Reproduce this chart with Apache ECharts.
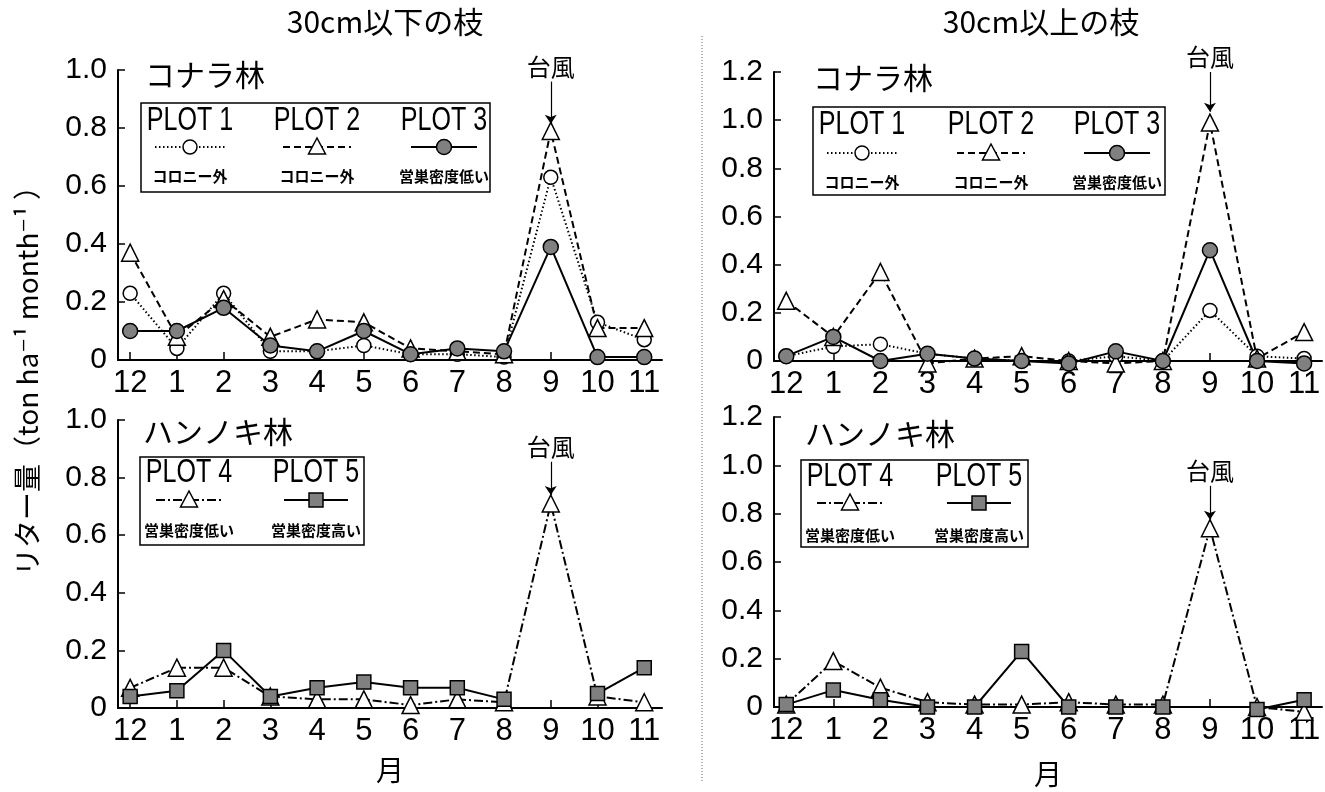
<!DOCTYPE html>
<html><head><meta charset="utf-8">
<script src="https://cdn.jsdelivr.net/npm/echarts@6/dist/echarts.min.js"></script>
<style>html,body{margin:0;padding:0;background:#fff}#c{width:1325px;height:792px}</style>
</head><body><div id="c"></div>
<script>
// ---- data ----
const months = ['12','1','2','3','4','5','6','7','8','9','10','11'];
// 30cm以下の枝 / コナラ林
const plot1Small = [0.23,0.04,0.23,0.03,0.03,0.05,0.02,0.02,0.01,0.63,0.13,0.07];
const plot2Small = [0.37,0.08,0.21,0.08,0.14,0.13,0.04,0.03,0.02,0.79,0.11,0.11];
const plot3Small = [0.10,0.10,0.18,0.05,0.03,0.10,0.02,0.04,0.03,0.39,0.01,0.01];
// 30cm以上の枝 / コナラ林
const plot1Large = [0.02,0.06,0.07,0.03,0.01,0.00,0.00,0.02,0.00,0.21,0.02,0.01];
const plot2Large = [0.25,0.10,0.37,-0.01,0.01,0.02,0.00,-0.01,0.00,0.99,0.01,0.12];
const plot3Large = [0.02,0.10,0.00,0.03,0.01,0.00,-0.01,0.04,0.00,0.46,0.00,-0.01];
// 30cm以下の枝 / ハンノキ林
const plot4Small = [0.07,0.14,0.14,0.04,0.03,0.03,0.01,0.03,0.02,0.71,0.04,0.02];
const plot5Small = [0.04,0.06,0.20,0.04,0.07,0.09,0.07,0.07,0.03,null,0.05,0.14];
// 30cm以上の枝 / ハンノキ林
const plot4Large = [0.01,0.19,0.08,0.02,0.01,0.01,0.02,0.01,0.01,0.74,0.00,-0.02];
const plot5Large = [0.01,0.07,0.03,0.00,0.00,0.23,0.00,0.00,0.00,null,-0.01,0.03];
const yTicksSmall = [0, 1.0];
const yTicksLarge = [0, 1.2];

// ---- chart ----
const chart = echarts.init(document.getElementById('c'));
const NUM = "'Liberation Sans', Arial, sans-serif";
const JP = "'Noto Sans CJK JP', sans-serif";
const idx = months.map((m, i) => i);

const grids = [
  {left:118, top:70, width:544, height:290},
  {left:774, top:72, width:548, height:289},
  {left:118, top:420, width:544, height:288},
  {left:774, top:417, width:548, height:290}
].map(g => Object.assign({outerBoundsMode:'none', containLabel:false}, g));

function xAx(gi) {
  return {type:'value', gridIndex:gi, min:-0.26, max:11.38,
    axisLine:{onZero:false, lineStyle:{color:'#000', width:2}},
    axisTick:{show:true, inside:true, length:8, customValues:idx, lineStyle:{color:'#000', width:1.5}},
    axisLabel:{customValues:idx, formatter:v => months[Math.round(v)], margin:8, color:'#000', fontSize:31, fontFamily:NUM},
    splitLine:{show:false}};
}
function yAx(gi, range) {
  return {type:'value', gridIndex:gi, min:range[0], max:range[1], interval:0.2,
    axisLine:{show:true, onZero:false, lineStyle:{color:'#000', width:2}},
    axisTick:{show:true, inside:true, length:7, lineStyle:{color:'#000', width:1.5}},
    axisLabel:{formatter:v => v === 0 ? '0' : v.toFixed(1), margin:11, color:'#000', fontSize:30, fontFamily:NUM},
    splitLine:{show:false}};
}

const STY = {
  p1:{symbol:'circle', symbolSize:14, fill:'#fff', dash:[1.5,2.5]},
  p2:{symbol:'triangle', symbolSize:17, fill:'#fff', dash:[7,4]},
  p3:{symbol:'circle', symbolSize:15, fill:'#808080', dash:'solid'},
  p4:{symbol:'triangle', symbolSize:17, fill:'#fff', dash:[9,3,2,3]},
  p5:{symbol:'rect', symbolSize:14, fill:'#808080', dash:'solid'}
};

function ser(name, data, gi, k, arrow) {
  const s = STY[k];
  const o = {type:'line', name, xAxisIndex:gi, yAxisIndex:gi, clip:false,
    data:data.map((v, i) => [i, v == null ? '-' : v]),
    symbol:s.symbol, symbolSize:s.symbolSize, showAllSymbol:true, connectNulls:false,
    itemStyle:{color:s.fill, borderColor:'#000', borderWidth:1.5},
    lineStyle:{color:'#000', width:2, type:s.dash},
    emphasis:{disabled:true}, z:3};
  if (arrow) {
    o.markLine = {silent:true, animation:false, symbol:['none','arrow'], symbolSize:9,
      lineStyle:{color:'#000', width:1.2, type:'solid'},
      label:{show:true, position:'start', formatter:'台風', fontSize:24, fontFamily:JP, color:'#000', distance:3},
      data:[[{coord:[9, arrow[0]]}, {coord:[9, arrow[1]]}]]};
  }
  return o;
}

const series = [
  ser('PLOT 1', plot1Small, 0, 'p1'),
  ser('PLOT 2', plot2Small, 0, 'p2', [0.96, 0.815]),
  ser('PLOT 3', plot3Small, 0, 'p3'),
  ser('PLOT 1', plot1Large, 1, 'p1'),
  ser('PLOT 2', plot2Large, 1, 'p2', [1.2, 1.035]),
  ser('PLOT 3', plot3Large, 1, 'p3'),
  ser('PLOT 4', plot4Small, 2, 'p4', [0.855, 0.74]),
  ser('PLOT 5', plot5Small, 2, 'p5'),
  ser('PLOT 4', plot4Large, 3, 'p4', [0.915, 0.775]),
  ser('PLOT 5', plot5Large, 3, 'p5')
];

// ---- legend boxes drawn as graphics ----
const g = [];
function txt(x, y, text, size, font, extra, weight) {
  g.push(Object.assign({type:'text', x, y, z:5, style:{text, fontSize:size, fontFamily:font, fontWeight:weight || 'normal', fill:'#000', align:'center', verticalAlign:'middle'}}, extra || {}));
}
function sample(cx, cy, k, half) {
  const s = STY[k];
  g.push({type:'line', z:5, shape:{x1:cx-half, y1:cy, x2:cx+half, y2:cy},
    style:{stroke:'#000', lineWidth:2, lineDash:s.dash === 'solid' ? null : s.dash}});
  const st = {fill:s.fill, stroke:'#000', lineWidth:1.5};
  if (s.symbol === 'circle') g.push({type:'circle', z:6, shape:{cx, cy, r:s.symbolSize/2}, style:st});
  else if (s.symbol === 'triangle') g.push({type:'polygon', z:6, shape:{points:[[cx, cy-9],[cx-8.5, cy+7],[cx+8.5, cy+7]]}, style:st});
  else g.push({type:'rect', z:6, shape:{x:cx-7, y:cy-7, width:14, height:14}, style:st});
}
function box(x, y, w, h) {
  g.push({type:'rect', z:1, shape:{x, y, width:w, height:h}, style:{fill:'#fff', stroke:'#000', lineWidth:1.5}});
}
function entry(cx, yName, ySample, ySub, name, k, sub, half) {
  txt(cx, yName, name, 33, NUM, {scaleX:0.76});
  sample(cx, ySample, k, half);
  txt(cx, ySub, sub, 15, JP, null, 'bold');
}

box(141, 103, 349, 89);
entry(190, 121, 147, 176, 'PLOT 1', 'p1', 'コロニー外', 35);
entry(317, 121, 147, 176, 'PLOT 2', 'p2', 'コロニー外', 34);
entry(444, 121, 147, 176, 'PLOT 3', 'p3', '営巣密度低い', 33);

box(813, 107, 352, 88);
entry(862, 125, 153, 182, 'PLOT 1', 'p1', 'コロニー外', 35);
entry(991, 125, 153, 182, 'PLOT 2', 'p2', 'コロニー外', 34);
entry(1117, 125, 153, 182, 'PLOT 3', 'p3', '営巣密度低い', 33);

box(140, 457, 224, 88);
entry(189, 473, 500, 530, 'PLOT 4', 'p4', '営巣密度低い', 33);
entry(316, 473, 500, 530, 'PLOT 5', 'p5', '営巣密度高い', 32);

box(801, 460, 227, 87);
entry(850, 477, 503, 535, 'PLOT 4', 'p4', '営巣密度低い', 33);
entry(979, 477, 503, 535, 'PLOT 5', 'p5', '営巣密度高い', 32);

// titles & labels
txt(385, 22, '30cm以下の枝', 30, JP);
txt(1041, 22, '30cm以上の枝', 30, JP);
function leftTxt(x, y, text) {
  g.push({type:'text', x, y, z:5, style:{text, fontSize:30, fontFamily:JP, fill:'#000', align:'left', verticalAlign:'middle'}});
}
leftTxt(145, 75, 'コナラ林');
leftTxt(813, 78, 'コナラ林');
leftTxt(143, 432, 'ハンノキ林');
leftTxt(805, 434, 'ハンノキ林');
txt(390, 770, '月', 28, JP);
txt(1048, 774, '月', 28, JP);
g.push({type:'text', x:27, y:374, rotation:Math.PI/2, z:5,
  style:{text:'リター量（ton ha⁻¹ month⁻¹ ）', fontSize:28, fontFamily:"'Noto Sans CJK JP', 'DejaVu Sans', sans-serif", fill:'#000', align:'center', verticalAlign:'middle'}});
g.push({type:'line', z:5, shape:{x1:702, y1:36, x2:702, y2:782}, style:{stroke:'#666', lineWidth:1, lineDash:[1,2]}});

chart.setOption({
  animation:false,
  backgroundColor:'#fff',
  grid:grids,
  xAxis:[xAx(0), xAx(1), xAx(2), xAx(3)],
  yAxis:[yAx(0, yTicksSmall), yAx(1, yTicksLarge), yAx(2, yTicksSmall), yAx(3, yTicksLarge)],
  series,
  graphic:g
});
</script></body></html>
